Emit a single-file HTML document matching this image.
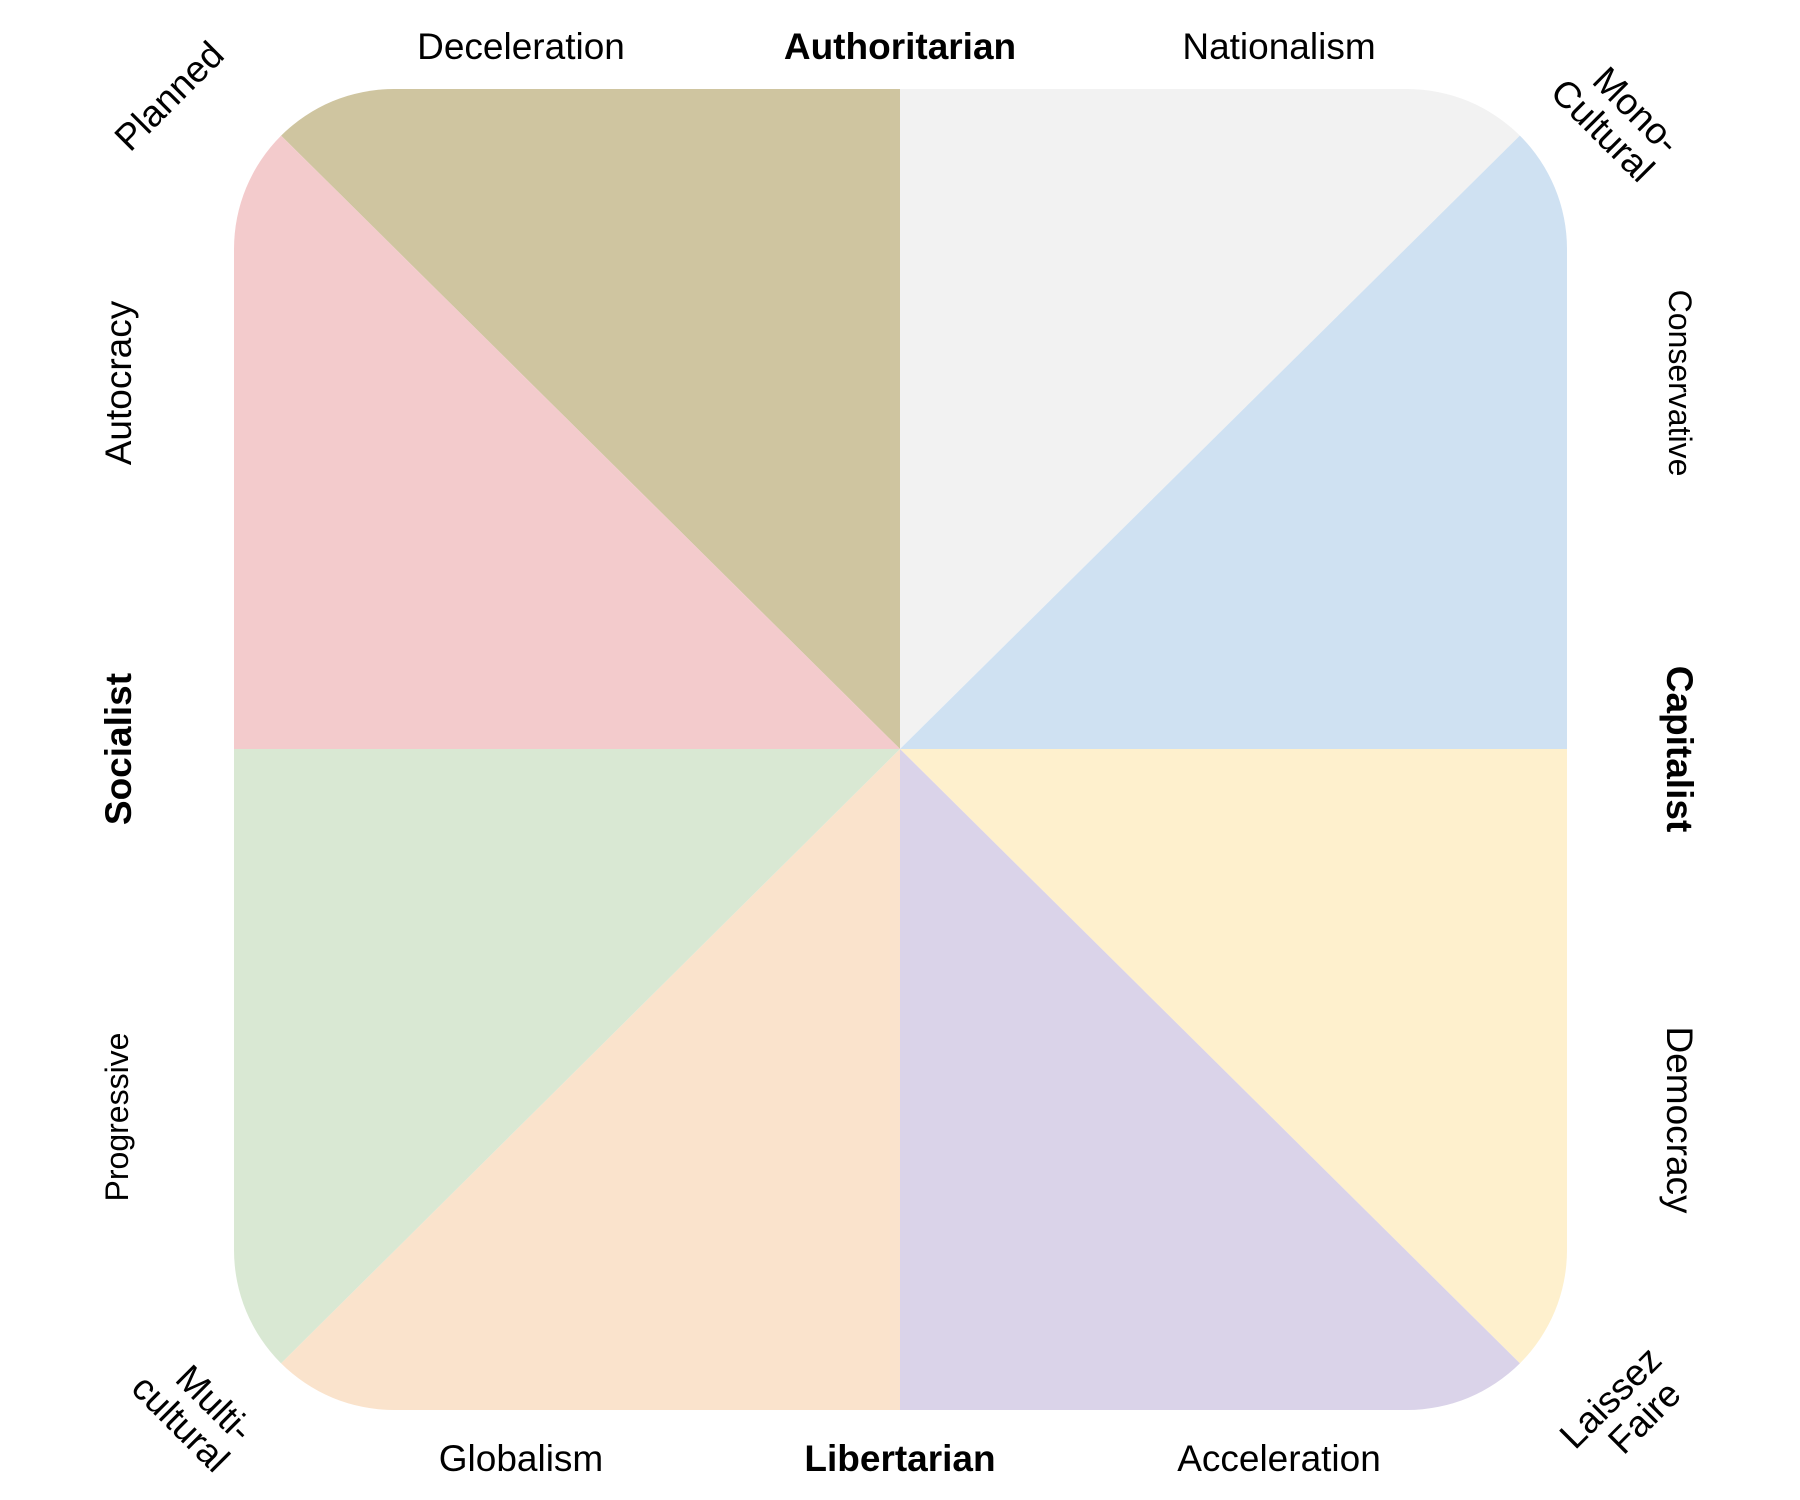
<!DOCTYPE html>
<html><head><meta charset="utf-8"><style>
html,body{margin:0;padding:0;background:#fff}
svg{display:block}
text{font-family:"Liberation Sans",sans-serif;fill:#000}
.b{font-weight:bold}
</style></head><body>
<svg width="1800" height="1500" viewBox="0 0 1800 1500" xmlns="http://www.w3.org/2000/svg">
<defs><clipPath id="c"><rect x="234" y="89" width="1333" height="1321" rx="160" ry="160"/></clipPath></defs>
<g clip-path="url(#c)">
<polygon points="900,749 234,89 900,89" fill="#cfc5a0"/>
<polygon points="900,749 900,89 1567,89" fill="#f2f2f2"/>
<polygon points="900,749 1567,89 1567,749" fill="#cfe1f2"/>
<polygon points="900,749 1567,749 1567,1410" fill="#fef0cd"/>
<polygon points="900,749 1567,1410 900,1410" fill="#dad3e9"/>
<polygon points="900,749 900,1410 234,1410" fill="#fae3cc"/>
<polygon points="900,749 234,1410 234,749" fill="#d9e8d3"/>
<polygon points="900,749 234,749 234,89" fill="#f3cbcc"/>
</g>
<g font-size="37" text-anchor="middle">
<text x="521" y="59">Deceleration</text>
<text x="900" y="59" class="b">Authoritarian</text>
<text x="1279" y="59">Nationalism</text>
<text x="521" y="1471">Globalism</text>
<text x="900" y="1471" class="b">Libertarian</text>
<text x="1279" y="1471">Acceleration</text>
<text transform="translate(131,749) rotate(-90)" class="b">Socialist</text>
<text transform="translate(131,383) rotate(-90)">Autocracy</text>
<text transform="translate(128,1117) rotate(-90)" font-size="32">Progressive</text>
<text transform="translate(1669,383) rotate(90)" font-size="32">Conservative</text>
<text transform="translate(1667,749) rotate(90)" class="b">Capitalist</text>
<text transform="translate(1667,1120) rotate(90)">Democracy</text>
<text transform="translate(178,105) rotate(-45)">Planned</text>
<text transform="translate(1622,125) rotate(45)"><tspan x="0" y="-8">Mono-</tspan><tspan x="-10" y="30">Cultural</tspan></text>
<text transform="translate(200,1418) rotate(45)"><tspan x="0" y="-8">Multi-</tspan><tspan x="-10" y="30">cultural</tspan></text>
<text transform="translate(1625,1412) rotate(-45)"><tspan x="0" y="-8">Laissez</tspan><tspan x="10" y="30">Faire</tspan></text>
</g>
</svg>
</body></html>
